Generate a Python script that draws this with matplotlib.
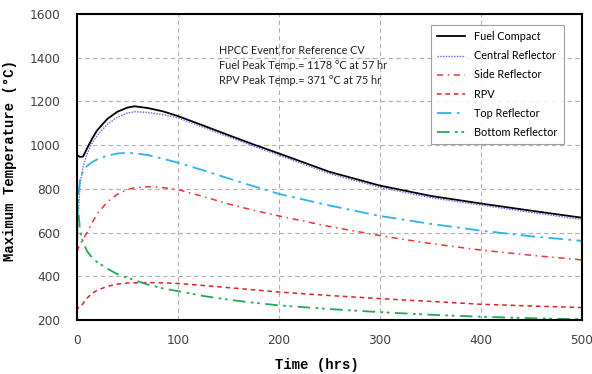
import matplotlib
matplotlib.use("Agg")
import matplotlib.pyplot as plt
import numpy as np

time_hr = [0, 1, 3, 6, 10, 15, 20, 30, 40, 50, 57, 70, 85, 100, 125, 150, 175, 200, 250, 300, 350, 400, 450, 500]
fuel_compact = [955, 952, 946, 948, 985, 1030, 1068, 1120, 1153, 1172, 1178, 1170, 1155, 1133, 1090, 1046, 1003, 962, 878, 815, 768, 733, 700, 668]
central_reflector = [480, 650, 820, 900, 960, 1010, 1045, 1095, 1128, 1147, 1153, 1150, 1140, 1125, 1082, 1038, 995, 954, 870, 807, 760, 726, 692, 660]
side_reflector = [510, 525, 545, 570, 600, 645, 685, 740, 775, 797, 805, 810, 806, 797, 765, 731, 702, 676, 628, 586, 550, 520, 496, 475]
rpv = [270, 255, 258, 275, 300, 322, 336, 354, 364, 369, 370, 371, 370, 367, 358, 348, 338, 328, 312, 298, 285, 272, 264, 257]
top_reflector = [650, 760, 840, 880, 905, 922, 935, 952, 962, 965, 963, 955, 938, 920, 885, 848, 812, 777, 724, 676, 640, 609, 583, 562]
bottom_reflector = [830, 720, 612, 555, 515, 485, 465, 435, 410, 393, 383, 362, 345, 332, 310, 293, 279, 267, 250, 236, 224, 215, 208, 203]

annotation = ["HPCC Event for Reference CV",
              "Fuel Peak Temp.= 1178 \u00b0C at 57 hr",
              "RPV Peak Temp.= 371 \u00b0C at 75 hr"]

fig = plt.figure(figsize=(5.92, 3.74), dpi=100)
ax = fig.add_axes([0.130, 0.1444, 0.853, 0.818])

ax.plot(time_hr, fuel_compact, color="black", lw=1.3, label="Fuel Compact")
ax.plot(time_hr, central_reflector, color="#6060ee", lw=1.0, ls=(0, (1, 1)), label="Central Reflector")
ax.plot(time_hr, side_reflector, color="#ee3333", lw=1.1, ls=(0, (4, 3, 1, 3)), label="Side Reflector")
ax.plot(time_hr, rpv, color="#dd2222", lw=1.1, ls=(0, (3, 2.5)), label="RPV")
ax.plot(time_hr, top_reflector, color="#2ab4ea", lw=1.3, ls=(0, (8, 3, 1.5, 3)), label="Top Reflector")
ax.plot(time_hr, bottom_reflector, color="#22aa55", lw=1.3, ls=(0, (7, 3, 1.5, 2, 1.5, 3)), label="Bottom Reflector")

ax.set_xlim(0, 500)
ax.set_ylim(200, 1600)
ax.set_xticks([0, 100, 200, 300, 400, 500])
ax.set_yticks(range(200, 1601, 200))
ax.grid(True, color="#b0b0b0", ls=(0, (4, 3)), lw=0.8)
ax.tick_params(length=0, labelsize=8.7, colors="#404040")
ax.tick_params(axis="x", pad=10)
ax.tick_params(axis="y", pad=12)
for s in ax.spines.values():
    s.set_linewidth(1.5)
    s.set_color("black")

ax.set_xlabel("Time (hrs)", family="Liberation Mono", weight="bold", fontsize=10)
ax.xaxis.set_label_coords(0.475, -0.125)
ax.set_ylabel("Maximum Temperature (\u00b0C)", family="Liberation Mono", weight="bold", fontsize=10)
ax.yaxis.set_label_coords(-0.118, 0.52)

ax.text(0.282, 0.90, "\n".join(annotation), transform=ax.transAxes, fontsize=7.8,
        family="Lato", va="top", ha="left", linespacing=1.45, color="#222222")

leg = ax.legend(loc="upper right", bbox_to_anchor=(0.975, 0.983),
                prop={"family": "Lato", "size": 7.8}, frameon=True, fancybox=False,
                edgecolor="#888888", handlelength=2.6, labelspacing=0.75, borderpad=0.6)
leg.get_frame().set_linewidth(0.8)

fig.savefig("out.png", dpi=100)
